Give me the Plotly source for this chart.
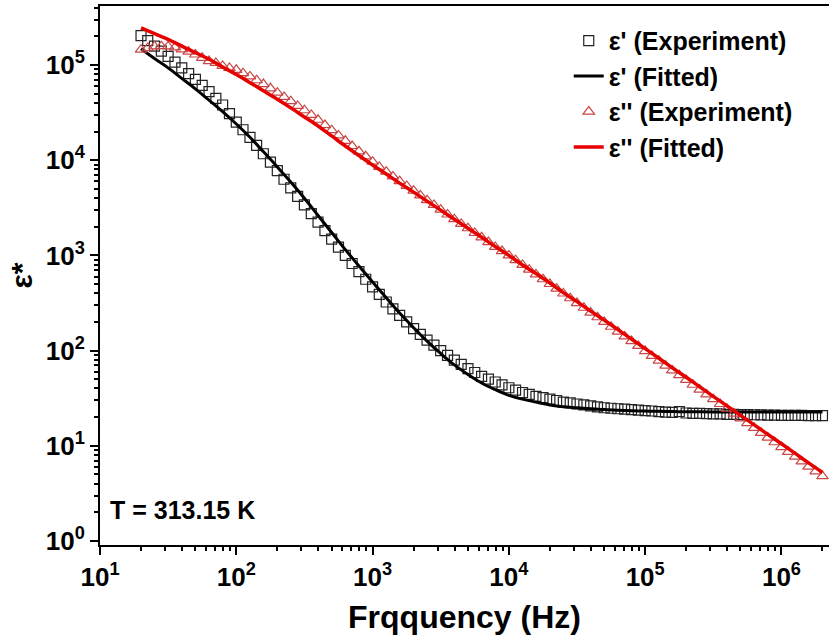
import plotly.graph_objects as go

# ---- data ----
exp_freq = [20, 22.4, 25.1, 28.2, 31.6, 35.5, 39.8, 44.7, 50.1, 56.2,
            63.1, 70.8, 79.4, 89.1, 100, 112, 126, 141, 158, 178,
            200, 224, 251, 282, 316, 355, 398, 447, 501, 562,
            631, 708, 794, 891, 1000, 1120, 1260, 1410, 1580, 1780,
            2000, 2240, 2510, 2820, 3160, 3550, 3980, 4470, 5010, 5620,
            6310, 7080, 7940, 8910, 10000, 11200, 12600, 14100, 15800, 17800,
            20000, 22400, 25100, 28200, 31600, 35500, 39800, 44700, 50100, 56200,
            63100, 70800, 79400, 89100, 100000, 112000, 126000, 141000, 158000, 178000,
            200000, 224000, 251000, 282000, 316000, 355000, 398000, 447000, 501000, 562000,
            631000, 708000, 794000, 891000, 1000000, 1120000, 1260000, 1410000, 1580000, 1780000,
            2000000]

eps1_exp = [204000, 180000, 158000, 140000, 123000, 107000, 93300, 81300, 70800, 61000,
            52500, 44700, 38000, 30900, 25100, 20900, 17400, 14300, 11700, 9550,
            7760, 6310, 5130, 4170, 3390, 2750, 2240, 1820, 1480, 1220,
            1000, 822, 676, 562, 468, 389, 324, 275, 234, 200,
            170, 148, 129, 114, 100, 89.1, 79.4, 71.6, 64.6, 58.9,
            53.7, 50.1, 46.8, 43.7, 40.7, 38.5, 36.3, 34.7, 33.1, 32.0,
            30.9, 29.9, 28.8, 28.2, 27.5, 26.9, 26.3, 25.7, 25.1, 24.8,
            24.5, 24.3, 24.0, 23.7, 23.4, 23.2, 22.9, 22.6, 22.4, 22.9,
            22.1, 21.9, 21.9, 21.8, 21.6, 21.6, 21.4, 21.4, 21.3, 21.3,
            21.2, 21.1, 21.0, 21.0, 20.9, 20.9, 20.9, 20.9, 20.8, 20.8,
            20.8]

eps2_exp = [145000, 151000, 157000, 158000, 157000, 153000, 146000, 138000, 129000, 119000,
            110000, 105000, 97700, 93300, 89100, 82200, 75900, 69200, 63100, 56900,
            51300, 46200, 41700, 37200, 33500, 29900, 26600, 23400, 20700, 18200,
            16000, 14100, 12400, 11000, 9660, 8510, 7590, 6760, 6030, 5370,
            4790, 4270, 3800, 3390, 3020, 2690, 2400, 2140, 1930, 1720,
            1550, 1380, 1230, 1110, 1000, 891, 794, 708, 631, 562,
            501, 447, 398, 355, 316, 282, 251, 224, 200, 178,
            158, 141, 126, 112, 99.0, 88.0, 78.3, 69.7, 62.0, 55.2,
            49.2, 43.8, 39.0, 34.7, 30.9, 27.5, 24.5, 21.8, 19.4, 17.3,
            15.4, 13.7, 12.2, 10.9, 9.7, 8.65, 7.7, 6.86, 6.05, 5.40,
            4.80]

fit_freq = [20, 25.1, 31.6, 39.8, 50.1, 63.1, 79.4, 100, 126, 158,
            200, 251, 316, 398, 501, 631, 794, 1000, 1260, 1580,
            2000, 2510, 3160, 3980, 5010, 6310, 7940, 10000, 12600, 15800,
            20000, 25100, 31600, 39800, 50100, 63100, 79400, 100000, 126000, 158000,
            200000, 251000, 316000, 398000, 501000, 631000, 794000, 1000000, 1260000, 1580000,
            2000000]

eps1_fit = [148000, 117000, 93300, 72400, 56200, 42700, 32400, 24000, 17400, 12300,
            8510, 5890, 3980, 2630, 1740, 1150, 776, 525, 359, 248,
            174, 126, 93.3, 70.8, 56.2, 45.7, 38.9, 33.9, 30.9, 28.8,
            26.9, 25.7, 25.1, 24.5, 24.0, 23.7, 23.4, 23.2, 23.0, 22.9,
            22.8, 22.8, 22.7, 22.7, 22.7, 22.6, 22.6, 22.6, 22.6, 22.6,
            22.6]

eps2_fit = [245000, 214000, 186000, 158000, 135000, 115000, 95500, 79400, 65300, 53700,
            43700, 35500, 28500, 22900, 18000, 14100, 11200, 8910, 7160, 5750,
            4620, 3720, 2990, 2400, 1930, 1550, 1240, 1000, 794, 646,
            513, 407, 327, 260, 209, 166, 132, 105, 83.2, 66.1,
            52.5, 41.7, 33.1, 26.3, 20.9, 16.6, 13.2, 10.5, 8.32, 6.61,
            5.25]

x_tickvals = [10, 100, 1000, 10000, 100000, 1000000]
x_ticktext = ["10<sup>1</sup>", "10<sup>2</sup>", "10<sup>3</sup>",
              "10<sup>4</sup>", "10<sup>5</sup>", "10<sup>6</sup>"]
y_tickvals = [1, 10, 100, 1000, 10000, 100000]
y_ticktext = ["10<sup>0</sup>", "10<sup>1</sup>", "10<sup>2</sup>",
              "10<sup>3</sup>", "10<sup>4</sup>", "10<sup>5</sup>"]

FONT = "Liberation Sans, Arial, sans-serif"

fig = go.Figure()
fig.add_trace(go.Scatter(
    x=exp_freq, y=eps1_exp, mode="markers", name="ε' (Experiment)",
    marker=dict(symbol="square-open", size=10, color="#222222", line=dict(width=1.2))))
fig.add_trace(go.Scatter(
    x=fit_freq, y=eps1_fit, mode="lines", name="ε' (Fitted)",
    line=dict(color="black", width=3, shape="spline")))
fig.add_trace(go.Scatter(
    x=exp_freq, y=eps2_exp, mode="markers", name="ε'' (Experiment)",
    marker=dict(symbol="triangle-up-open", size=10, color="#c84646", line=dict(width=1.2))))
fig.add_trace(go.Scatter(
    x=fit_freq, y=eps2_fit, mode="lines", name="ε'' (Fitted)",
    line=dict(color="#e60000", width=3.5, shape="spline")))

axis_common = dict(
    type="log", showline=True, linecolor="black", linewidth=2,
    ticks="outside", ticklen=8, tickwidth=2, tickcolor="black",
    showgrid=False, zeroline=False,
    minor=dict(ticks="outside", ticklen=4, tickwidth=1.5, tickcolor="black",
               dtick="D1", showgrid=False),
    tickfont=dict(family=FONT, size=26, color="black", weight="bold"),
)

fig.update_layout(
    width=829, height=639,
    margin=dict(l=100, r=0, t=6, b=94),
    paper_bgcolor="white", plot_bgcolor="white",
    font=dict(family=FONT, color="black"),
    showlegend=True,
    legend=dict(x=0.643, y=0.978, xanchor="left", yanchor="top",
                bgcolor="rgba(0,0,0,0)", traceorder="normal",
                font=dict(family=FONT, size=25, color="black", weight="bold")),
    xaxis=dict(axis_common, range=[1, 6.349], mirror=True,
               tickvals=x_tickvals, ticktext=x_ticktext,
               title=dict(text="Frqquency (Hz)", standoff=14,
                          font=dict(family=FONT, size=32, color="black", weight="bold"))),
    yaxis=dict(axis_common, range=[-0.042, 5.62], mirror=False,
               tickvals=y_tickvals, ticktext=y_ticktext,
               title=dict(text="ε*", standoff=4,
                          font=dict(family=FONT, size=30, color="black", weight="bold"))),
    annotations=[dict(text="T = 313.15 K", xref="paper", yref="paper",
                      x=0.011, y=0.065, xanchor="left", yanchor="middle",
                      showarrow=False,
                      font=dict(family=FONT, size=25, color="black", weight="bold"))],
)

fig.write_html("out.html")
